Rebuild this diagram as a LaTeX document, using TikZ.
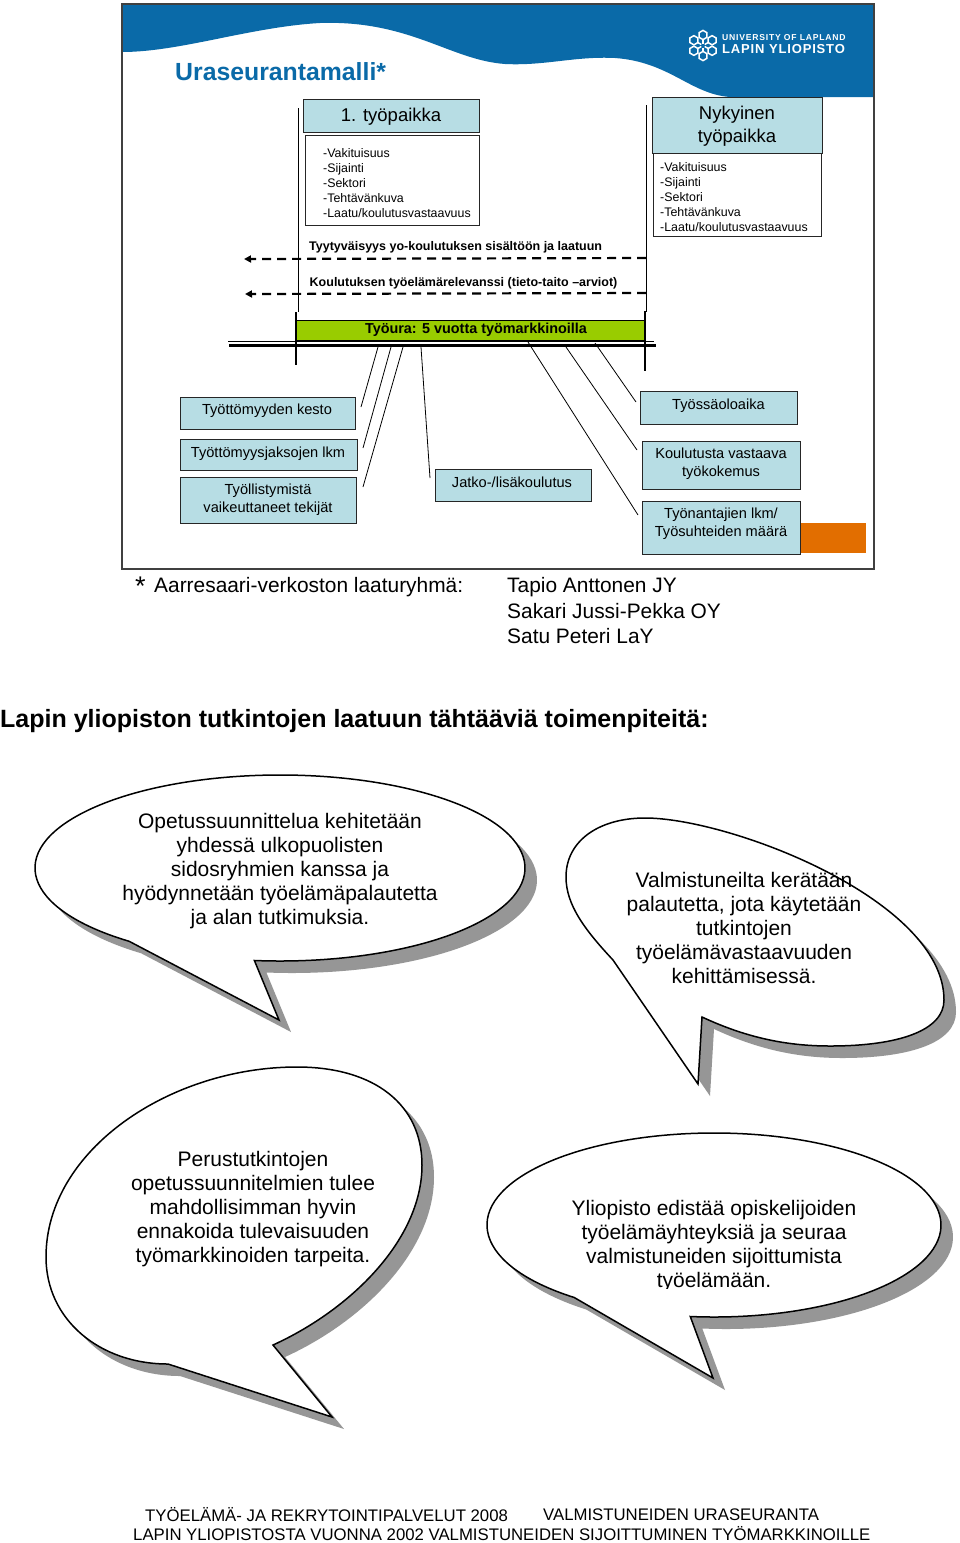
\documentclass[tikz,border=0pt]{standalone}
\usepackage{fontspec}
\setmainfont{Liberation Sans}
\usetikzlibrary{arrows.meta}
\definecolor{lapblue}{HTML}{0A6AA8}
\definecolor{paleblue}{HTML}{B7DDE4}
\definecolor{barlime}{HTML}{99CC00}
\definecolor{orangeblk}{HTML}{E26E00}
\definecolor{bshadow}{HTML}{969696}
\newcommand{\fs}[2]{\fontsize{#1}{#2}\selectfont}
\newcommand{\bubbleshape}[1]{%
  \fill[bshadow,shift={(12,12)}] #1;
  \draw[bubline] #1;}
\tikzset{
  x=1pt,y=-1pt,
  headbox/.style={draw=black!85,line width=1pt,fill=paleblue,inner sep=0pt,align=center},
  listbox/.style={draw=black!85,line width=1pt,fill=white,inner sep=0pt},
  smallbox/.style={draw=black!85,line width=1pt,fill=paleblue,inner sep=0pt},
  smalltext/.style={inner sep=0pt,align=center,font=\fs{14.6}{18}},
  listtext/.style={anchor=west,inner sep=0pt,align=left,font=\fs{12.4}{15}},
  boldnote/.style={anchor=west,inner sep=0pt,font=\bfseries\fs{12.5}{14}},
  bubtext/.style={inner sep=0pt,align=center,font=\fs{21}{24}},
  plain/.style={anchor=west,inner sep=0pt,font=\fs{20.9}{25}},
  foot/.style={anchor=west,inner sep=0pt,font=\fs{16.75}{20}},
  bubline/.style={draw=black,line width=1.5pt,fill=white,line join=miter},
  feeler/.style={draw=black,line width=.8pt},
  dashline/.style={draw=black,line width=2.2pt,dash pattern=on 9pt off 6pt,-{Triangle[length=7pt,width=7pt]}},
  post/.style={draw=black,line width=.9pt},
  bigpost/.style={draw=black,line width=2.6pt},
}
\begin{document}
\begin{tikzpicture}
\useasboundingbox (0,0) rectangle (960,1543);
\fill[white] (0,0) rectangle (960,1543);
% panel
\fill[lapblue] (122,4) -- (874,4) -- (874,97) -- (730,97)
  .. controls (690,94) and (670,62) .. (615,58)
  .. controls (575,56) and (545,66) .. (505,64)
  .. controls (450,60) and (410,20) .. (320,23)
  .. controls (250,27) and (180,52) .. (122,52) -- cycle;
\draw[black!75,line width=1.2pt] (122,4) rectangle (874,569);
\node[anchor=west,inner sep=0pt,text=lapblue,font=\bfseries\fs{24.8}{28}] (title) at (175,72) {Uraseurantamalli*};
% logo
\begin{scope}[shift={(703,45.5)},white,line width=1.5pt]
  \foreach \a in {30,90,...,330}{
    \draw[shift={(\a:10.5)}] (30:4.6) -- (90:4.6) -- (150:4.6) -- (210:4.6) -- (270:4.6) -- (330:4.6) -- cycle;
    \draw (\a:2) -- (\a:6);
  }
\end{scope}
\node[anchor=west,inner sep=0pt,text=white,font=\bfseries\fs{8.6}{10}\addfontfeatures{LetterSpace=9}] (logoa) at (722,38) {UNIVERSITY OF LAPLAND};
\node[anchor=west,inner sep=0pt,text=white,font=\bfseries\fs{13}{14}\addfontfeatures{LetterSpace=6.5}] (logob) at (722,49) {LAPIN YLIOPISTO};
% verticals
\coordinate (vlt) at (298,108); \coordinate (vlb) at (298,312);
\coordinate (vrt) at (646,105); \coordinate (vrb) at (646,312);
\draw[post] (vlt) -- (vlb);
\draw[post] (vrt) -- (vrb);
% first job
\node[headbox,minimum width=176pt,minimum height=33pt] (job1) at (391,115.5) {};
\node[inner sep=0pt,font=\fs{18.5}{23}] (job1t) at (391,117) {1. työpaikka};
\node[listbox,minimum width=174pt,minimum height=90pt] (list1) at (392,180) {};
\node[listtext] (list1t) at (323,183) {-Vakituisuus\\-Sijainti\\-Sektori\\-Tehtävänkuva\\-Laatu/koulutusvastaavuus};
% present job
\node[headbox,minimum width=170pt,minimum height=56pt] (job2) at (737,125.5) {};
\node[inner sep=0pt,align=center,font=\fs{18.5}{23}] (job2t) at (737,126.5) {Nykyinen\\työpaikka};
\node[listbox,minimum width=168pt,minimum height=83pt] (list2) at (737,194.5) {};
\node[listtext] (list2t) at (660,197) {-Vakituisuus\\-Sijainti\\-Sektori\\-Tehtävänkuva\\-Laatu/koulutusvastaavuus};
% dashed
\node[boldnote] (n1) at (309,247.5) {Tyytyväisyys yo-koulutuksen sisältöön ja laatuun};
\node[boldnote] (n2) at (309.5,283.5) {Koulutuksen työelämärelevanssi (tieto-taito –arviot)};
\coordinate (d1r) at (646,258); \coordinate (d1l) at (244,259);
\coordinate (d2r) at (646,293); \coordinate (d2l) at (245,294);
\draw[dashline] (d1r) -- (d1l);
\draw[dashline] (d2r) -- (d2l);
% career bar
\node[draw=black,line width=1pt,fill=barlime,minimum width=349pt,minimum height=20pt,inner sep=0pt] (bar) at (470.5,330) {};
\node[inner sep=0pt,font=\bfseries\fs{14.4}{16}] (bart) at (476,330) {Työura: 5 vuotta työmarkkinoilla};
\coordinate (t1a) at (228,341); \coordinate (t1b) at (654,341);
\coordinate (t2a) at (229,345); \coordinate (t2b) at (656,345);
\draw[black,line width=.9pt] (t1a) -- (t1b);
\draw[black,line width=3pt] (t2a) -- (t2b);
\coordinate (p1a) at (296,312); \coordinate (p1b) at (296,365);
\coordinate (p2a) at (645,311); \coordinate (p2b) at (645,371);
\draw[bigpost] (p1a) -- (p1b);
\draw[bigpost] (p2a) -- (p2b);
% small boxes
\node[smallbox,minimum width=175pt,minimum height=32pt] (b1) at (267.5,413) {};
\node[smalltext] (b1t) at (267,411) {Työttömyyden kesto};
\node[smallbox,minimum width=177pt,minimum height=31pt] (b2) at (268.5,454.5) {};
\node[smalltext] (b2t) at (268,453.5) {Työttömyysjaksojen lkm};
\node[smallbox,minimum width=176pt,minimum height=46pt] (b3) at (268.5,500) {};
\node[smalltext] (b3t) at (268,500) {Työllistymistä\\vaikeuttaneet tekijät};
\node[smallbox,minimum width=156pt,minimum height=32pt] (b4) at (513,485) {};
\node[smalltext] (b4t) at (512,482.5) {Jatko-/lisäkoulutus};
\node[smallbox,minimum width=157pt,minimum height=33pt] (b5) at (718.5,407.5) {};
\node[smalltext] (b5t) at (718.5,405.5) {Työssäoloaika};
\node[smallbox,minimum width=158pt,minimum height=48pt] (b6) at (721,465) {};
\node[smalltext] (b6t) at (721,464) {Koulutusta vastaava\\työkokemus};
\fill[orangeblk] (800,523) rectangle (866,553);
\node[smallbox,minimum width=158pt,minimum height=53pt] (b7) at (721,527.5) {};
\node[smalltext] (b7t) at (721,524) {Työnantajien lkm/\\Työsuhteiden määrä};
% feelers
\foreach \n/\xa/\ya/\xb/\yb in {f1/378/347/361/407,f2/391/347/363/448,f3/403/347/363/487,f4/421/347/430/478,f5/528/342/638/515,f6/566/347/637/450,f7/595/343/636/402}{
  \coordinate (\n a) at (\xa,\ya);
  \coordinate (\n b) at (\xb,\yb);
  \draw[feeler] (\n a) -- (\n b);
}
% team
\node[anchor=west,inner sep=0pt,font=\fs{27}{28}] (star) at (135,586) {*};
\node[plain] (team) at (154,587) {Aarresaari-verkoston laaturyhmä:};
\node[plain] (m1) at (507,587) {Tapio Anttonen JY};
\node[plain] (m2) at (507,611) {Sakari Jussi-Pekka OY};
\node[plain] (m3) at (507,636) {Satu Peteri LaY};
\node[anchor=west,inner sep=0pt,font=\bfseries\fs{25}{28}] (head) at (0,721) {Lapin yliopiston tutkintojen laatuun tähtääviä toimenpiteitä:};
% bubble 1
\bubbleshape{({280+245*cos(128)},{868+93*sin(128)}) arc[start angle=128,end angle=456,x radius=245,y radius=93] -- (279,1020) -- cycle}
\node[bubtext] (t1) at (280,871.5) {Opetussuunnittelua kehitetään\\yhdessä ulkopuolisten\\sidosryhmien kanssa ja\\hyödynnetään työelämäpalautetta\\ja alan tutkimuksia.};
% bubble 2
\bubbleshape{(613,960) .. controls (585,930) and (566,905) .. (566,877)
  .. controls (566,840) and (600,818) .. (645,818)
  .. controls (730,818) and (944,900) .. (944,1000)
  .. controls (944,1030) and (900,1046) .. (830,1046)
  .. controls (785,1046) and (745,1037) .. (702,1017)
  -- (698,1084) -- cycle}
\node[bubtext] (t2) at (744,928) {Valmistuneilta kerätään\\palautetta, jota käytetään\\tutkintojen\\työelämävastaavuuden\\kehittämisessä.};
% bubble 3
\bubbleshape{(168,1364) .. controls (100,1364) and (46,1320) .. (46,1257)
  .. controls (46,1150) and (170,1067) .. (297,1067)
  .. controls (375,1067) and (422,1105) .. (422,1165)
  .. controls (422,1240) and (350,1310) .. (273,1345)
  -- (332,1417) -- cycle}
\node[bubtext] (t3) at (253,1209.5) {Perustutkintojen\\opetussuunnitelmien tulee\\mahdollisimman hyvin\\ennakoida tulevaisuuden\\työmarkkinoiden tarpeita.};
% bubble 4
\bubbleshape{({714+227*cos(128)},{1225+92*sin(128)}) arc[start angle=128,end angle=456,x radius=227,y radius=92] -- (713,1378) -- cycle}
\begin{scope}
  \clip (480,1180) rectangle (950,1288);
  \node[bubtext] (t4) at (714,1246.5) {Yliopisto edistää opiskelijoiden\\työelämäyhteyksiä ja seuraa\\valmistuneiden sijoittumista\\työelämään.};
\end{scope}
% footer
\node[foot] (fa) at (145,1515) {TYÖELÄMÄ- JA REKRYTOINTIPALVELUT 2008};
\node[foot] (fb) at (543,1515) {VALMISTUNEIDEN URASEURANTA};
\node[foot] (fc) at (133,1534) {LAPIN YLIOPISTOSTA VUONNA 2002 VALMISTUNEIDEN SIJOITTUMINEN TYÖMARKKINOILLE};
\end{tikzpicture}
\end{document}
